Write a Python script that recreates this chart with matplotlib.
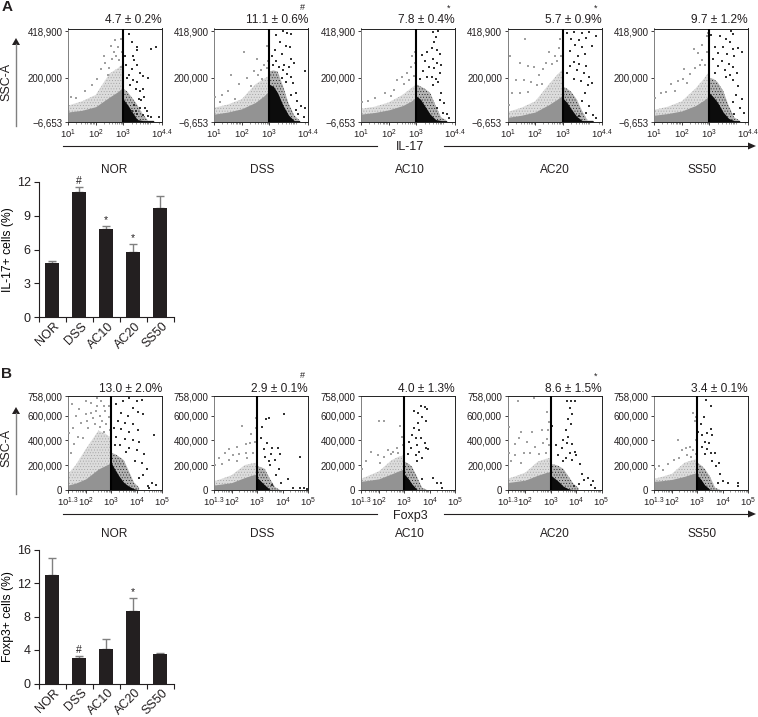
from __future__ import annotations

import matplotlib

matplotlib.use("Agg")

import matplotlib.pyplot as plt
import numpy as np
from matplotlib.ticker import FixedLocator, NullFormatter

GROUPS = ["NOR", "DSS", "AC10", "AC20", "SS50"]

# bar values
IL17_VALUES = [4.8, 11.1, 7.8, 5.8, 9.7]
IL17_ERRORS = [0.2, 0.5, 0.3, 0.7, 1.1]
IL17_MARKS = ["", "#", "*", "*", ""]
FOXP3_VALUES = [13.0, 3.0, 4.1, 8.6, 3.5]
FOXP3_ERRORS = [2.0, 0.3, 1.2, 1.6, 0.2]
FOXP3_MARKS = ["", "#", "", "*", ""]

IL17_STATS = ["4.7 ± 0.2%", "11.1 ± 0.6%", "7.8 ± 0.4%", "5.7 ± 0.9%", "9.7 ± 1.2%"]
FOXP3_STATS = ["13.0 ± 2.0%", "2.9 ± 0.1%", "4.0 ± 1.3%", "8.6 ± 1.5%", "3.4 ± 0.1%"]

# cloud outlines: decade of the x axis, then SSC-A (thousands) per group
A_GRAY_X = [1.0, 1.5, 2.0, 2.5, 2.8, 3.0]
A_GRAY_DENSE = [[40, 48, 65, 110, 135, 157], [30, 40, 55, 85, 115, 140], [30, 38, 50, 70, 90, 110],
                [15, 25, 40, 75, 100, 120], [25, 33, 45, 70, 95, 115]]
A_GRAY_FRINGE = [[70, 90, 120, 220, 245, 265], [60, 75, 100, 170, 195, 210], [55, 65, 85, 120, 150, 170],
                 [40, 60, 90, 170, 215, 240], [50, 65, 90, 150, 195, 230]]
B_GRAY_X = [1.3, 1.6, 2.0, 2.5, 2.8, 3.0]
B_GRAY_DENSE = [[40, 55, 90, 170, 200, 220], [40, 48, 60, 100, 120, 130], [70, 78, 90, 130, 155, 170],
                [60, 68, 80, 120, 140, 150], [70, 75, 85, 110, 130, 140]]
B_GRAY_FRINGE = [[130, 200, 330, 480, 450, 420], [70, 90, 120, 200, 215, 220], [90, 115, 150, 240, 270, 280],
                 [90, 110, 140, 230, 250, 260], [90, 105, 130, 220, 240, 250]]

BLACK_X = [3.0, 3.15, 3.3, 3.5, 3.7, 3.9, 4.1]
A_BLACK_DENSE = [[100, 75, 45, 5, 0, 0, 0], [170, 160, 130, 70, 25, 0, 0], [115, 100, 70, 30, 5, 0, 0],
                 [105, 85, 55, 20, 0, 0, 0], [130, 110, 85, 40, 10, 0, 0]]
A_BLACK_FRINGE = [[150, 135, 110, 75, 30, 0, 0], [230, 235, 230, 160, 80, 25, 0], [170, 160, 150, 130, 70, 15, 0],
                  [160, 150, 135, 100, 45, 0, 0], [200, 195, 180, 140, 70, 15, 0]]
B_BLACK_DENSE = [[220, 165, 115, 60, 30, 10, 0], [100, 70, 40, 5, 0, 0, 0], [130, 95, 50, 5, 0, 0, 0],
                 [120, 95, 70, 30, 10, 0, 0], [120, 85, 40, 5, 0, 0, 0]]
B_BLACK_FRINGE = [[300, 290, 270, 240, 150, 60, 20], [190, 185, 170, 90, 25, 0, 0], [230, 215, 190, 110, 20, 0, 0],
                  [210, 205, 195, 170, 110, 50, 15], [220, 200, 170, 110, 20, 0, 0]]

# loose events outside the clouds: (decade, SSC-A in thousands)
A_NOR_GRAY = [(2.35, 270), (2.55, 350), (2.7, 375), (2.65, 320), (2.8, 345), (2.9, 380), (2.2, 240), (2.45, 215),
              (2.6, 290), (2.75, 300), (2.85, 285), (2.3, 300), (2.05, 195), (1.85, 165), (1.6, 140), (1.3, 105),
              (2.95, 320), (2.5, 245), (2.9, 250), (1.1, 110)]
A_NOR_BLACK = [(3.2, 405), (3.3, 370), (3.5, 345), (3.5, 330), (4.0, 335), (4.2, 345), (3.35, 300), (3.4, 285),
               (3.5, 260), (3.3, 240), (3.6, 225), (3.7, 210), (3.9, 200), (3.2, 215), (3.35, 190), (3.5, 180),
               (3.15, 200), (3.25, 165), (3.45, 150), (3.6, 140), (3.75, 110), (3.55, 100), (3.4, 75), (3.6, 60),
               (3.8, 60), (3.5, 30), (3.7, 25), (4.3, 15), (3.9, 20), (4.0, 15), (3.65, 95), (3.3, 45), (3.45, 45),
               (3.85, 45), (3.72, 150), (3.1, 260), (3.05, 300)]
A_DSS_GRAY = [(2.1, 320), (2.55, 290), (1.6, 215), (1.3, 120), (1.9, 170), (2.2, 200), (2.45, 230), (2.7, 235),
              (2.8, 260), (2.9, 245), (2.95, 280), (2.6, 215), (2.35, 160), (1.05, 110), (1.5, 140), (2.9, 350),
              (2.75, 195), (1.75, 100), (1.2, 85)]
A_DSS_BLACK = [(3.5, 420), (3.65, 410), (3.8, 405), (3.25, 400), (3.4, 370), (3.6, 350), (3.75, 345), (3.2, 330),
               (3.45, 310), (3.8, 290), (3.9, 270), (3.25, 280), (3.55, 260), (3.7, 250), (3.35, 250), (3.5, 235),
               (3.65, 220), (3.8, 205), (4.3, 230), (3.6, 180), (3.85, 175), (3.95, 130), (4.0, 90), (3.8, 120),
               (4.15, 70), (4.25, 15), (3.95, 50), (4.05, 30), (3.1, 300), (3.15, 260), (3.45, 200), (4.3, 60)]
A_AC10_GRAY = [(2.5, 205), (2.65, 225), (2.8, 250), (2.85, 300), (2.95, 320), (2.95, 270), (2.3, 190), (1.85, 130),
               (1.5, 105), (1.25, 90), (1.05, 85), (2.1, 115), (2.55, 170), (2.75, 190), (2.9, 210), (2.2, 145)]
A_AC10_BLACK = [(3.6, 415), (3.8, 420), (3.7, 390), (3.65, 370), (3.55, 340), (3.75, 330), (3.4, 320), (3.85, 310),
                (3.2, 305), (3.3, 280), (3.6, 290), (3.75, 270), (3.9, 260), (3.45, 250), (3.65, 245), (3.85, 225),
                (3.25, 230), (3.55, 205), (3.7, 195), (3.4, 205), (3.8, 180), (3.15, 195), (3.9, 130), (4.0, 80),
                (3.85, 95), (3.75, 60), (4.1, 30), (4.2, 10), (3.95, 35), (3.6, 165)]
A_AC20_GRAY = [(1.65, 380), (1.1, 300), (1.45, 270), (1.75, 255), (1.95, 250), (2.15, 215), (2.3, 240), (2.5, 320),
               (2.7, 300), (2.85, 340), (2.95, 300), (2.6, 265), (2.4, 270), (2.8, 280), (1.3, 190), (1.6, 190),
               (1.85, 180), (2.05, 165), (1.15, 130), (1.45, 130), (1.75, 135), (2.25, 170), (1.05, 75), (2.9, 380)]
A_AC20_BLACK = [(3.15, 410), (3.4, 415), (3.7, 410), (3.95, 415), (3.3, 380), (3.6, 375), (3.85, 385), (4.2, 395),
                (3.45, 355), (3.7, 345), (4.05, 350), (3.25, 325), (3.55, 300), (3.8, 310), (3.4, 275), (3.6, 265),
                (3.85, 255), (3.25, 255), (3.5, 235), (3.75, 225), (3.95, 205), (3.15, 225), (3.4, 195), (3.65, 185),
                (3.9, 165), (4.05, 175), (3.8, 130), (3.7, 90), (3.95, 70), (4.1, 25), (3.85, 35), (3.6, 20), (4.2, 10)]
A_SS50_GRAY = [(2.45, 335), (2.1, 240), (2.75, 355), (2.9, 395), (2.6, 315), (2.75, 285), (2.9, 320), (2.3, 220),
               (2.5, 245), (2.65, 260), (2.85, 260), (1.6, 170), (1.85, 185), (2.05, 195), (1.25, 130), (1.45, 135),
               (1.05, 105), (1.75, 140), (2.95, 410), (2.2, 175)]
A_SS50_BLACK = [(3.8, 420), (3.85, 405), (3.05, 400), (3.4, 395), (3.6, 380), (3.75, 370), (3.2, 345), (3.5, 345),
                (3.85, 335), (4.05, 340), (3.3, 315), (3.65, 310), (3.9, 300), (4.2, 320), (3.15, 290), (3.45, 280),
                (3.7, 265), (3.85, 250), (3.3, 255), (3.55, 235), (3.75, 215), (4.0, 225), (3.2, 225), (3.6, 205),
                (3.85, 190), (4.05, 160), (3.95, 120), (4.2, 100), (3.85, 85), (4.1, 60), (4.25, 35), (3.9, 30)]

B_NOR_GRAY = [(1.45, 690), (1.6, 600), (1.75, 650), (2.0, 720), (2.2, 700), (2.45, 745), (2.6, 720), (2.7, 680),
              (1.5, 500), (1.35, 460), (1.8, 540), (2.0, 610), (2.2, 620), (2.4, 640), (2.55, 600), (2.75, 640),
              (2.9, 590), (2.1, 500), (2.35, 530), (2.55, 510), (2.8, 530), (2.95, 480), (1.7, 430), (1.9, 420),
              (2.3, 580), (2.65, 560), (2.45, 680), (1.55, 370), (1.4, 300), (2.9, 680), (2.05, 560), (2.7, 470)]
B_NOR_BLACK = [(3.45, 720), (3.7, 740), (4.0, 720), (4.2, 725), (3.2, 690), (3.85, 660), (4.05, 630), (3.4, 620),
               (3.65, 600), (4.25, 610), (3.25, 560), (3.55, 540), (3.85, 530), (3.1, 500), (3.4, 490), (3.7, 470),
               (4.05, 480), (4.7, 445), (3.2, 430), (3.55, 410), (3.85, 400), (4.1, 390), (3.35, 360), (3.7, 340),
               (4.0, 320), (4.3, 290), (3.95, 230), (4.2, 220), (4.4, 170), (4.6, 60), (4.45, 30), (4.25, 120),
               (4.1, 100), (4.75, 40), (4.5, 15), (3.6, 310), (3.15, 360)]
B_DSS_GRAY = [(2.4, 520), (2.95, 580), (2.75, 455), (2.9, 390), (2.55, 370), (2.7, 380), (2.2, 350), (1.9, 330),
              (1.5, 260), (1.75, 300), (2.05, 280), (2.3, 290), (2.55, 300), (2.85, 300), (1.35, 200), (1.6, 210),
              (1.9, 240), (2.95, 500), (2.2, 230), (2.6, 260)]
B_DSS_BLACK = [(3.35, 570), (3.45, 580), (4.05, 610), (3.2, 510), (3.15, 420), (3.4, 380), (3.6, 340), (3.8, 340),
               (3.25, 330), (3.9, 290), (3.55, 290), (3.3, 270), (4.7, 265), (3.7, 240), (3.45, 235), (3.85, 170),
               (3.5, 200), (3.75, 120), (3.95, 60), (4.2, 90), (4.7, 15), (4.85, 20), (4.4, 15), (3.6, 40), (4.95, 10)]
B_AC10_GRAY = [(2.0, 560), (2.2, 555), (2.85, 520), (2.9, 430), (2.7, 340), (2.55, 310), (2.35, 320), (1.7, 310),
               (1.95, 280), (2.2, 270), (2.5, 290), (2.75, 300), (1.5, 230), (1.35, 170), (2.05, 215), (2.95, 360)]
B_AC10_BLACK = [(3.65, 680), (3.8, 670), (3.9, 650), (3.4, 640), (3.55, 620), (3.7, 590), (3.85, 555), (3.55, 540),
                (3.4, 500), (3.6, 480), (3.3, 440), (3.45, 420), (3.65, 420), (3.8, 380), (3.2, 390), (3.5, 360),
                (3.85, 340), (3.95, 330), (3.25, 340), (3.6, 310), (3.45, 280), (3.7, 255), (3.5, 230), (4.15, 95),
                (4.3, 60), (4.45, 60), (4.5, 15), (3.7, 90), (3.15, 290)]
B_AC20_GRAY = [(1.7, 720), (2.35, 745), (1.35, 510), (2.85, 630), (2.95, 550), (1.85, 470), (2.25, 470), (2.65, 480),
               (2.9, 480), (1.6, 370), (1.75, 420), (2.05, 390), (2.4, 350), (2.7, 380), (2.85, 410), (1.35, 300),
               (1.6, 280), (1.95, 300), (2.2, 300), (2.55, 290), (2.8, 300), (1.45, 230), (2.95, 360), (1.85, 220)]
B_AC20_BLACK = [(3.65, 715), (3.8, 715), (3.95, 715), (3.75, 660), (3.85, 610), (3.7, 570), (3.8, 530), (3.05, 520),
                (3.6, 480), (3.7, 430), (3.5, 400), (3.65, 380), (3.85, 370), (3.2, 360), (3.45, 340), (3.75, 300),
                (3.95, 310), (3.3, 280), (3.6, 260), (4.0, 280), (4.15, 210), (3.85, 240), (4.25, 130), (4.45, 100),
                (4.65, 70), (4.3, 80), (4.6, 40), (4.1, 50), (3.9, 30), (4.75, 20), (3.5, 230)]
B_SS50_GRAY = [(2.85, 620), (2.95, 590), (2.9, 560), (2.25, 400), (2.55, 340), (2.7, 350), (2.4, 320), (2.85, 320),
               (2.6, 280), (2.3, 260), (2.1, 240), (1.85, 210), (1.5, 190), (1.35, 170), (1.65, 160), (2.95, 400),
               (2.75, 270), (2.95, 290)]
B_SS50_BLACK = [(3.35, 725), (3.55, 680), (3.25, 590), (3.15, 530), (3.55, 490), (3.4, 460), (3.6, 440), (3.2, 440),
                (3.05, 470), (3.3, 390), (3.45, 380), (3.2, 350), (3.4, 330), (3.55, 300), (3.7, 300), (3.3, 290),
                (3.85, 220), (3.6, 230), (3.75, 190), (3.9, 130), (4.0, 70), (4.2, 60), (4.6, 60), (4.6, 30), (3.8, 60)]

A_GRAY_POINTS = [A_NOR_GRAY, A_DSS_GRAY, A_AC10_GRAY, A_AC20_GRAY, A_SS50_GRAY]
A_BLACK_POINTS = [A_NOR_BLACK, A_DSS_BLACK, A_AC10_BLACK, A_AC20_BLACK, A_SS50_BLACK]
B_GRAY_POINTS = [B_NOR_GRAY, B_DSS_GRAY, B_AC10_GRAY, B_AC20_GRAY, B_SS50_GRAY]
B_BLACK_POINTS = [B_NOR_BLACK, B_DSS_BLACK, B_AC10_BLACK, B_AC20_BLACK, B_SS50_BLACK]

A_X_TICKS = [10**1, 10**2, 10**3, 10**4.4]
A_X_LABELS = ["$10^{1}$", "$10^{2}$", "$10^{3}$", "$10^{4.4}$"]
B_X_TICKS = [10**1.3, 10**2, 10**3, 10**4, 10**5]
B_X_LABELS = ["$10^{1.3}$", "$10^{2}$", "$10^{3}$", "$10^{4}$", "$10^{5}$"]
A_Y_TICKS = [-6653, 200000, 418900]
A_Y_LABELS = ["−6,653", "200,000", "418,900"]
B_Y_TICKS = [0, 200000, 400000, 600000, 758000]
B_Y_LABELS = ["0", "200,000", "400,000", "600,000", "758,000"]

GRAY_DENSE = "#939393"
GRAY_TINT = "#dcdcdc"
GRAY_SPECK = "#9c9c9c"
BLACK_DENSE = "#0c0c0c"
BLACK_TINT = "#b4b4b4"
BLACK_SPECK = "#111111"
TEXT_COLOR = "#231f20"
ERROR_COLOR = "#808080"

WIDTH, HEIGHT = 758, 717
PANEL_LEFTS = [68, 214, 361, 507.5, 654]
PANEL_WIDTH = 94

plt.rcParams["font.family"] = ["Liberation Sans", "DejaVu Sans"]
plt.rcParams["text.color"] = TEXT_COLOR
plt.rcParams["mathtext.fontset"] = "custom"
plt.rcParams["mathtext.rm"] = "Liberation Sans"
plt.rcParams["mathtext.default"] = "regular"
plt.rcParams["hatch.linewidth"] = 0.3


def add_axes_px(fig, left, top, right, bottom):
    return fig.add_axes([left / WIDTH, 1 - bottom / HEIGHT, (right - left) / WIDTH, (bottom - top) / HEIGHT])


def flow_panel(fig, left, top, bottom, xlim, ylim, xticks, xlabels, yticks, ylabels, gate_data):
    ax = add_axes_px(fig, left, top, left + PANEL_WIDTH, bottom)
    gray_x, gray_dense, gray_fringe, black_dense, black_fringe, gray_pts, black_pts = gate_data
    gx = 10 ** np.array(gray_x)
    bx = 10 ** np.array(BLACK_X)
    floor = ylim[0]
    ax.fill_between(gx, floor, np.array(gray_fringe) * 1000, facecolor=GRAY_TINT, edgecolor=GRAY_SPECK,
                    hatch="......", lw=0, zorder=1)
    ax.fill_between(gx, floor, np.array(gray_dense) * 1000, color=GRAY_DENSE, lw=0, zorder=2)
    ax.fill_between(bx, floor, np.array(black_fringe) * 1000, facecolor=BLACK_TINT, edgecolor=BLACK_SPECK,
                    hatch="......", lw=0, zorder=1)
    ax.fill_between(bx, floor, np.array(black_dense) * 1000, color=BLACK_DENSE, lw=0, zorder=2)
    gp = np.array(gray_pts)
    bp = np.array(black_pts)
    ax.scatter(10 ** gp[:, 0], gp[:, 1] * 1000, s=0.6, marker="s", color="#a0a0a0", lw=0, zorder=3)
    ax.scatter(10 ** bp[:, 0], bp[:, 1] * 1000, s=0.6, marker="s", color="#333333", lw=0, zorder=3)
    ax.axvline(1000, color="black", lw=1.5, zorder=4)

    ax.set_xscale("log")
    ax.set_xlim(*xlim)
    ax.set_ylim(*ylim)
    ax.xaxis.set_major_locator(FixedLocator(xticks))
    ax.set_xticklabels(xlabels)
    minor = [m * 10**e for e in range(1, 5) for m in range(2, 10) if xlim[0] < m * 10**e < xlim[1]]
    ax.xaxis.set_minor_locator(FixedLocator(minor))
    ax.xaxis.set_minor_formatter(NullFormatter())
    ax.set_yticks(yticks)
    ax.set_yticklabels(ylabels)
    ax.tick_params(axis="y", which="major", labelsize=7, length=2.5, width=0.6, pad=1.5, colors=TEXT_COLOR)
    ax.tick_params(axis="x", which="major", labelsize=6.8, length=2.5, width=0.6, pad=1.5, colors=TEXT_COLOR)
    ax.tick_params(axis="x", which="minor", length=1.5, width=0.4, color="#444444")
    for side, spine in ax.spines.items():
        spine.set_linewidth(0.7)
        spine.set_color("#808080" if side == "left" else "#222222")
    return ax


def bar_panel(fig, top, bottom, values, errors, marks, ymax, yticks, ylabel):
    ax = add_axes_px(fig, 38.5, top, 173.5, bottom)
    x = np.arange(len(GROUPS))
    ax.bar(x, values, width=0.52, color=TEXT_COLOR, zorder=3)
    ax.errorbar(x, values, yerr=[np.zeros(len(values)), errors], fmt="none", ecolor=ERROR_COLOR,
                elinewidth=1.0, capsize=3.2, capthick=1.0, zorder=2)
    for xi, value, error, mark in zip(x, values, errors, marks):
        if mark:
            ax.annotate(mark, (xi, value + error), xytext=(0, 0.5), textcoords="offset points",
                        ha="center", va="bottom", fontsize=7.5)
    ax.set_xlim(-0.5, 4.5)
    ax.set_ylim(0, ymax)
    ax.set_yticks(yticks)
    ax.set_xticks(np.arange(-0.5, 5))
    ax.set_xticklabels([])
    ax.tick_params(axis="both", labelsize=9, length=3.5, width=0.8, pad=2, colors=TEXT_COLOR)
    for xi, name in zip(x, GROUPS):
        ax.annotate(name, (xi, 0), xycoords=("data", "axes fraction"), xytext=(1, -2.4), textcoords="offset points",
                    rotation=45, rotation_mode="anchor", ha="right", va="top", fontsize=9)
    ax.spines["top"].set_visible(False)
    ax.spines["right"].set_visible(False)
    for side in ("left", "bottom"):
        ax.spines[side].set_linewidth(0.8)
        ax.spines[side].set_color(TEXT_COLOR)
    ax.set_ylabel(ylabel, fontsize=8.7)
    ax.yaxis.set_label_coords(-0.185, 0.5)
    return ax


def row_annotations(ov, stats, marks, stat_y, mark_y, line_y, name_y, xlabel, arrow_top, arrow_bottom, ssc_y):
    for left, stat, mark, name, cx in zip(PANEL_LEFTS, stats, marks, GROUPS, [114, 262, 410, 555, 702]):
        ov.text(left + PANEL_WIDTH, stat_y, stat, ha="right", va="center", fontsize=8.6)
        if mark:
            ov.text(left + PANEL_WIDTH - 6, mark_y, mark, ha="center", va="center", fontsize=6.5)
        ov.text(cx, name_y, name, ha="center", va="center", fontsize=8.6)
    ov.plot([63, 377], [line_y, line_y], color=TEXT_COLOR, lw=0.8)
    ov.plot([444, 748], [line_y, line_y], color=TEXT_COLOR, lw=0.8)
    ov.fill([748, 756, 748], [line_y - 3.5, line_y, line_y + 3.5], color=TEXT_COLOR, lw=0)
    ov.text(410, line_y + 1.5, xlabel, ha="center", va="center", fontsize=9)
    ov.plot([16, 16], [arrow_bottom, arrow_top + 6], color="#808080", lw=1.0)
    ov.fill([12, 16, 20], [arrow_top + 7, arrow_top, arrow_top + 7], color=TEXT_COLOR, lw=0)
    ov.text(6, ssc_y, "SSC-A", rotation=90, ha="center", va="center", fontsize=9)


fig = plt.figure(figsize=(WIDTH / 100, HEIGHT / 100), dpi=100)

ov = fig.add_axes([0, 0, 1, 1], zorder=0)
ov.set_xlim(0, WIDTH)
ov.set_ylim(HEIGHT, 0)
ov.axis("off")
ov.text(7, 7, "A", fontsize=11, fontweight="bold", ha="center", va="center")
ov.text(7, 374, "B", fontsize=11, fontweight="bold", ha="center", va="center")
row_annotations(ov, IL17_STATS, IL17_MARKS, 20, 8, 146, 170, "IL-17", 38, 126, 82)
row_annotations(ov, FOXP3_STATS, FOXP3_MARKS, 389, 376, 514, 534, "Foxp3", 407, 494, 448)

for i, left in enumerate(PANEL_LEFTS):
    flow_panel(fig, left, 28.5, 122, (10**1, 10**4.4), (-6653, 431000), A_X_TICKS, A_X_LABELS, A_Y_TICKS, A_Y_LABELS,
               (A_GRAY_X, A_GRAY_DENSE[i], A_GRAY_FRINGE[i], A_BLACK_DENSE[i], A_BLACK_FRINGE[i],
                A_GRAY_POINTS[i], A_BLACK_POINTS[i]))
    flow_panel(fig, left, 396, 490, (10**1.3, 10**5), (0, 758000), B_X_TICKS, B_X_LABELS, B_Y_TICKS, B_Y_LABELS,
               (B_GRAY_X, B_GRAY_DENSE[i], B_GRAY_FRINGE[i], B_BLACK_DENSE[i], B_BLACK_FRINGE[i],
                B_GRAY_POINTS[i], B_BLACK_POINTS[i]))

bar_panel(fig, 182, 317, IL17_VALUES, IL17_ERRORS, IL17_MARKS, 12, [0, 3, 6, 9, 12], "IL-17+ cells (%)")
bar_panel(fig, 549.5, 683.5, FOXP3_VALUES, FOXP3_ERRORS, FOXP3_MARKS, 16, [0, 4, 8, 12, 16], "Foxp3+ cells (%)")

fig.savefig("out.png", dpi=100)
